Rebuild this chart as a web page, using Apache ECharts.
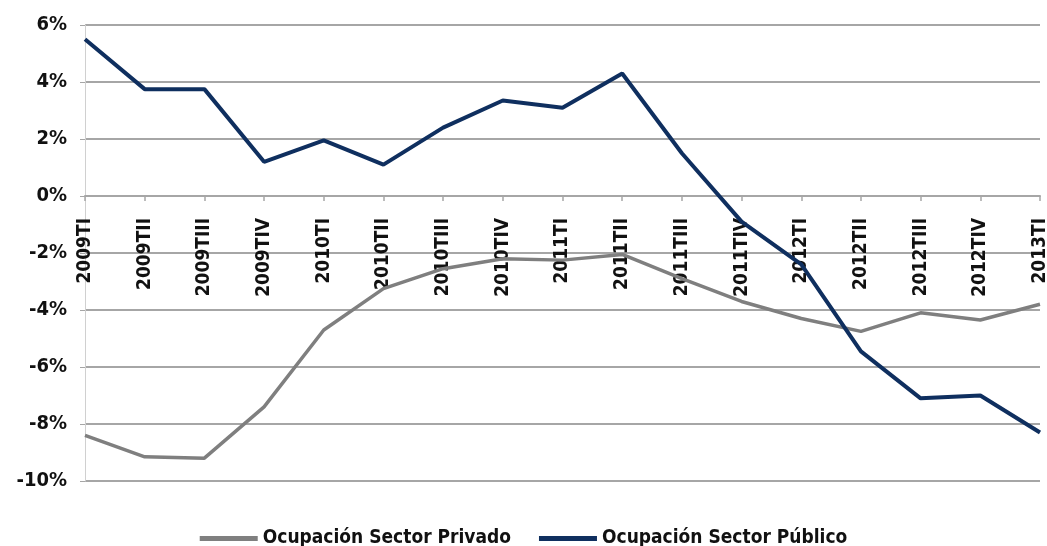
<!DOCTYPE html>
<html>
<head>
<meta charset="utf-8">
<script src="https://cdn.jsdelivr.net/npm/echarts@6/dist/echarts.min.js"></script>
<style>html,body{margin:0;padding:0;background:#fff}#c{width:1047px;height:546px}</style>
</head>
<body>
<div id="c"></div>
<script>
const categories = ['2009TI','2009TII','2009TIII','2009TIV','2010TI','2010TII','2010TIII','2010TIV','2011TI','2011TII','2011TIII','2011TIV','2012TI','2012TII','2012TIII','2012TIV','2013TI'];
const privado = [-8.4,-9.15,-9.2,-7.4,-4.7,-3.25,-2.55,-2.2,-2.25,-2.05,-2.9,-3.7,-4.3,-4.75,-4.1,-4.35,-3.8];
const publico = [5.5,3.75,3.75,1.2,1.95,1.1,2.4,3.35,3.1,4.3,1.5,-0.9,-2.4,-5.45,-7.1,-7.0,-8.3];
const seriesNames = ['Ocupación Sector Privado','Ocupación Sector Público'];
const yTicks = {min:-10, max:6, interval:2};

const font = "'Liberation Sans Narrow','Arial Narrow','DejaVu Sans Condensed',sans-serif";
const gridTop = 25, gridBottom = 65, H = 546;
const plotH = H - gridTop - gridBottom;
// distance from bottom of grid to the zero line, derived from the axis range
const zeroOffset = plotH * (0 - yTicks.min) / (yTicks.max - yTicks.min);

const chart = echarts.init(document.getElementById('c'));
chart.setOption({
  animation:false,
  backgroundColor:'#fff',
  grid:{left:85,right:7,top:gridTop,bottom:gridBottom,containLabel:false,outerBoundsMode:'none'},
  legend:{
    top:524,left:'center',
    data:seriesNames,
    icon:'rect',itemWidth:58,itemHeight:5,itemGap:28,
    textStyle:{fontFamily:font,fontWeight:'bold',fontSize:19,color:'#111'}
  },
  xAxis:{
    type:'category',data:categories,boundaryGap:false,position:'bottom',offset:-zeroOffset,
    axisLine:{onZero:false,lineStyle:{color:'#a6a6a6',width:2}},
    axisTick:{show:true,inside:false,length:5,lineStyle:{color:'#a6a6a6',width:1.5},alignWithLabel:true},
    axisLabel:{interval:0,rotate:90,margin:22,fontFamily:font,fontWeight:'bold',fontSize:19,color:'#111'},
    splitLine:{show:false}
  },
  yAxis:{
    type:'value',min:yTicks.min,max:yTicks.max,interval:yTicks.interval,
    axisLine:{show:true,lineStyle:{color:'#d0d0d0',width:1}},
    axisTick:{show:true,length:5,lineStyle:{color:'#a6a6a6'}},
    axisLabel:{formatter:v=>v+'%',margin:18,fontFamily:font,fontWeight:'bold',fontSize:20,color:'#111'},
    splitLine:{show:true,lineStyle:{color:'#a6a6a6',width:2}}
  },
  series:[
    {name:seriesNames[0],type:'line',data:privado,symbol:'none',lineStyle:{color:'#7f7f7f',width:3.5},itemStyle:{color:'#7f7f7f'},z:2},
    {name:seriesNames[1],type:'line',data:publico,symbol:'none',lineStyle:{color:'#0f2f5f',width:4},itemStyle:{color:'#0f2f5f'},z:3}
  ]
});
</script>
</body>
</html>
